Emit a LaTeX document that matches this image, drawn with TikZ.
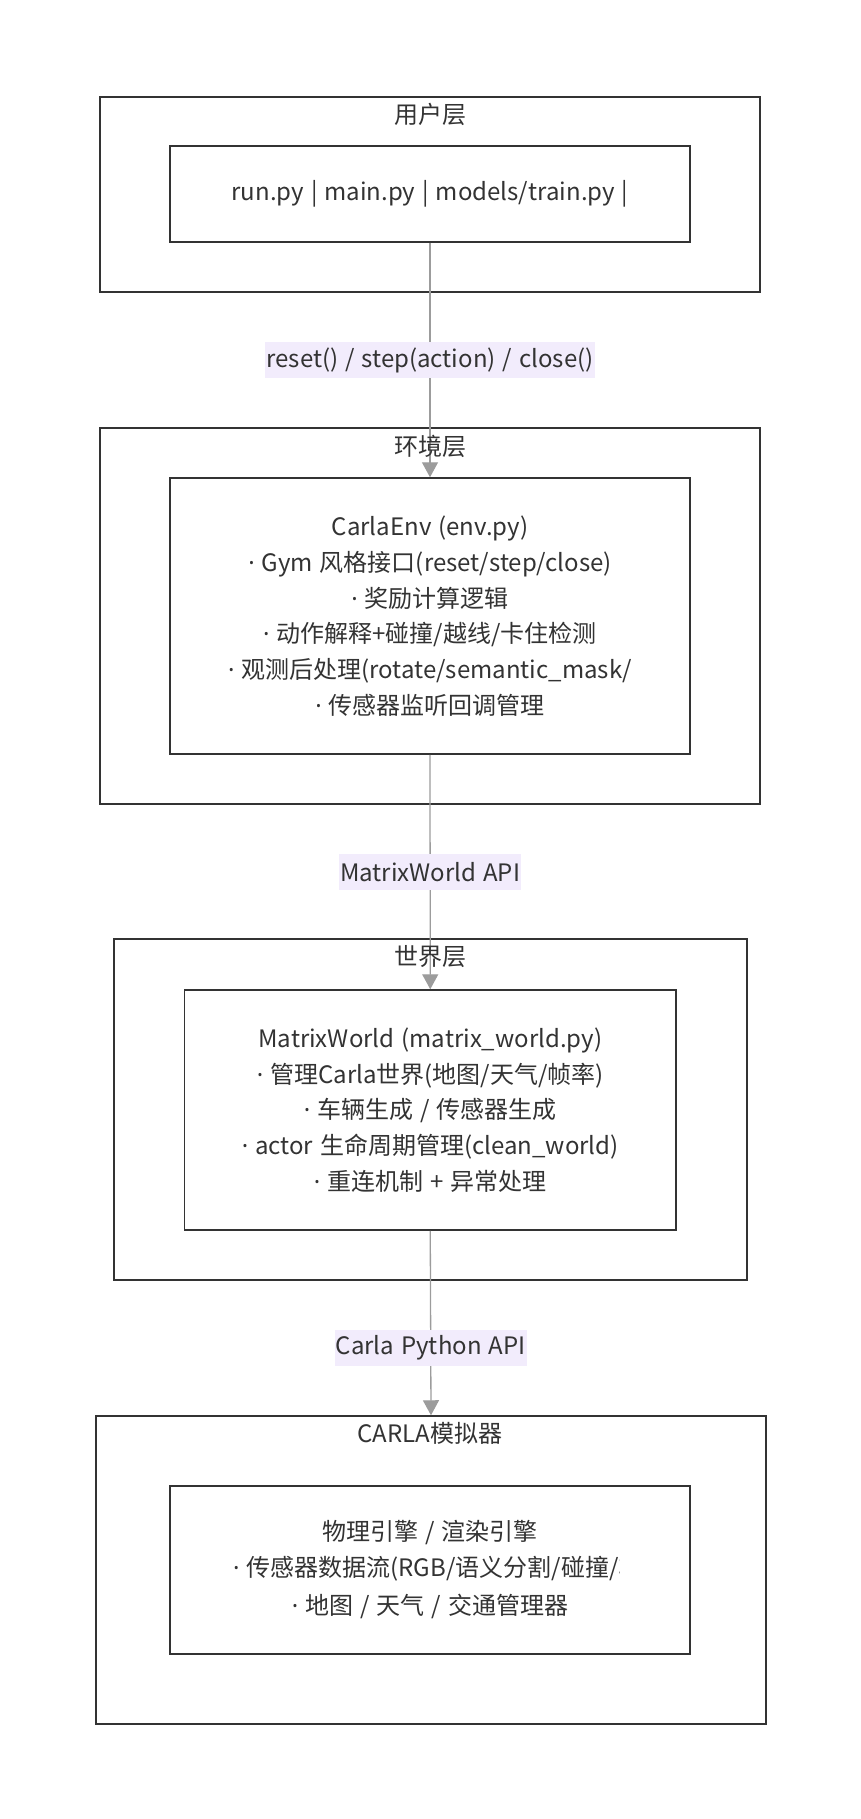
\documentclass[tikz,border=0pt]{standalone}
\usepackage{fontspec}
\setmainfont[WordSpace=1.3]{Noto Sans CJK SC}
\newfontfamily\latinfont{Noto Sans}
\usetikzlibrary{arrows.meta}
\definecolor{boxline}{HTML}{333333}
\definecolor{edgegray}{HTML}{9C9C9C}
\definecolor{lblbg}{RGB}{242,236,252}
\definecolor{txt}{HTML}{333333}
\newcommand{\bigfont}{\fontsize{24}{35.7}\selectfont}
\newcommand{\bul}{{\latinfont ·} }
\tikzset{
  layerbox/.style={draw=boxline,line width=1.5pt,fill=white,inner sep=0pt},
  module/.style={draw=boxline,line width=1.5pt,fill=white,inner sep=0pt,align=center,text=txt,font=\bigfont},
  layertitle/.style={text=txt,font=\bigfont,inner sep=0pt},
  flow/.style={draw=edgegray,line width=1.3pt,-{Triangle[width=16pt,length=15pt,fill=edgegray]}},
  lbl/.style={fill=lblbg,text=txt,font=\bigfont,inner xsep=1pt,inner ysep=0pt,minimum height=36pt}
}
\begin{document}
\begin{tikzpicture}[x=1pt,y=-1pt]
\useasboundingbox (0,0) rectangle (861,1819);
% layers
\node[layerbox,minimum width=660pt,minimum height=195pt] (userlayer) at (430,194.5) {};
\node[layerbox,minimum width=660pt,minimum height=376pt] (envlayer) at (430,616) {};
\node[layerbox,minimum width=633pt,minimum height=341pt] (worldlayer) at (430.5,1109.5) {};
\node[layerbox,minimum width=670pt,minimum height=308pt] (carlalayer) at (431,1570) {};
% modules
\node[module,minimum width=520pt,minimum height=96pt] (user) at (430,194) {run.py | main.py | models/train.py |};
\node[module,minimum width=520pt,minimum height=276pt] (env) at (430,616) {CarlaEnv (env.py)\\
  \bul Gym 风格接口(reset/step/close)\\
  \bul 奖励计算逻辑\\
  \bul 动作解释+碰撞/越线/卡住检测\\
  \bul 观测后处理(rotate/semantic\_mask/\\
  \bul 传感器监听回调管理};
\node[module,minimum width=491.5pt,minimum height=240pt] (world) at (430.25,1110) {MatrixWorld (matrix\_world.py)\\
  \bul 管理Carla世界(地图/天气/帧率)\\
  \bul 车辆生成 / 传感器生成\\
  \bul actor 生命周期管理(clean\_world)\\
  \bul 重连机制 + 异常处理};
\node[module,minimum width=520pt,minimum height=168pt] (carla) at (430,1570) {};
% connectors
\draw[flow] (user.south) -- node[lbl]{reset() / step(action) / close()} (env.north);
\draw[flow] (env.south) -- node[lbl]{MatrixWorld API} (world.north);
\draw[flow] (world.south) -- node[lbl,pos=.634]{Carla Python API} (carlalayer.north);
% titles
\node[layertitle] (usertitle) at (430,114) {用户层};
\node[layertitle] (envtitle) at (430,446) {环境层};
\node[layertitle] (worldtitle) at (430,957) {世界层};
\node[layertitle] (carlatitle) at (430,1433) {CARLA模拟器};
% simulator text
\node[layertitle] (carlaline1) at (430,1533) {物理引擎 / 渲染引擎};
\begin{scope}
\clip (170,1486) rectangle (619,1654);
\node[layertitle,anchor=west] (carlaline2) at (233,1569) {\bul 传感器数据流(RGB/语义分割/碰撞/车道入侵)};
\end{scope}
\node[layertitle] (carlaline3) at (430,1606) {\bul 地图 / 天气 / 交通管理器};
\end{tikzpicture}
\end{document}
